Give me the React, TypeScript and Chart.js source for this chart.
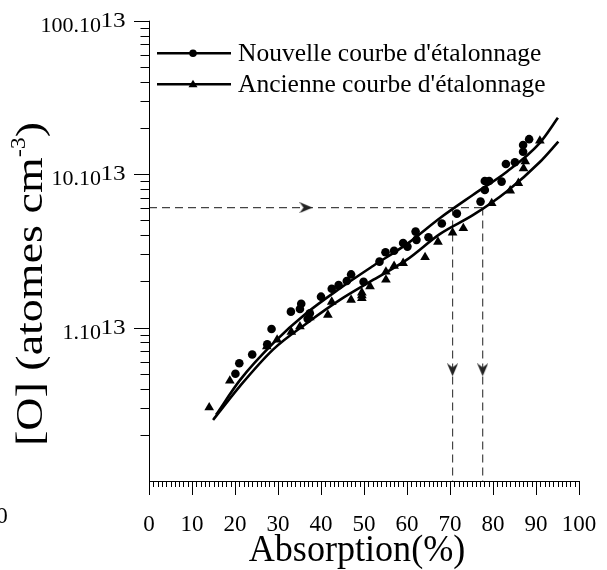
import React, { useEffect, useRef } from 'react';
import { Chart, registerables } from 'chart.js';

Chart.register(...registerables);

// ---------- data (values in units of 10^13 atomes cm-3) ----------
const xTickStep = 10;
const xMinorStep = 1;
const xMin = 0;
const xMax = 100;
const yMin = 0.1;
const yMax = 100;
const yTickValues = [1, 10, 100];
const yTickMantissas = ['1.10', '10.10', '100.10'];
const yTickExponent = '13';
const yMinorDecades = [0.1, 1, 10];

const legendLabels = ["Nouvelle courbe d'étalonnage", "Ancienne courbe d'étalonnage"];
const xTitle = 'Absorption(%)';
const yTitleMain = '[O] (atomes cm';
const yTitleSup = '-3';
const yTitleEnd = ')';
const strayLabel = '0';

// measured points, new calibration (circles)
const newPointsX = [20.1, 21.0, 24.0, 27.5, 28.5, 33.0, 35.4, 35.1, 37.4, 36.9, 40.0, 42.5, 44.1, 46.0, 47.0, 49.9, 53.6, 55.0, 57.0, 59.1, 60.1, 62.0, 62.2, 65.0, 68.1, 71.6, 77.1, 78.1, 78.1, 79.1, 82.0, 83.0, 85.1, 87.0, 87.0, 88.4];
const newPointsY = [0.50, 0.585, 0.667, 0.778, 0.978, 1.27, 1.43, 1.32, 1.24, 1.14, 1.59, 1.79, 1.89, 2.01, 2.22, 1.99, 2.69, 3.10, 3.17, 3.56, 3.37, 4.22, 3.73, 3.88, 4.77, 5.53, 6.62, 7.89, 9.03, 9.03, 8.94, 11.65, 11.96, 14.0, 15.5, 16.9];

// measured points, old calibration (triangles)
const oldPointsX = [14.0, 18.8, 27.4, 29.8, 33.1, 35.1, 37.4, 41.6, 42.5, 47.0, 49.5, 49.5, 49.5, 51.4, 55.1, 55.1, 57.0, 59.1, 64.2, 67.2, 70.6, 73.1, 79.7, 84.0, 85.9, 87.1, 87.5, 90.9];
const oldPointsY = [0.301, 0.450, 0.754, 0.832, 0.937, 1.015, 1.165, 1.21, 1.47, 1.515, 1.555, 1.62, 1.69, 1.855, 2.05, 2.31, 2.52, 2.63, 2.87, 3.62, 4.16, 4.44, 6.46, 7.81, 8.73, 10.9, 12.1, 16.5];

// fitted calibration curves
const newFitX = [15.6, 21.2, 28.9, 36.7, 44.4, 52.1, 60.0, 67.7, 75.3, 83.3, 90.9, 95.1];
const newFitY = [0.27, 0.456, 0.791, 1.247, 1.80, 2.52, 3.51, 5.18, 7.31, 10.4, 16.0, 23.3];
const oldFitX = [14.9, 21.2, 28.9, 36.7, 44.4, 52.2, 59.9, 67.7, 75.4, 83.2, 90.9, 95.2];
const oldFitY = [0.250, 0.417, 0.721, 1.068, 1.515, 2.05, 2.76, 4.08, 5.42, 7.71, 12.0, 16.3];

// reading example (dashed lines)
const readingLevel = 6.05;
const readingNewX = 70.6;
const readingOldX = 77.6;
const arrowAlongX = 36.5;
const arrowAlongY = 0.53;

const serif = '"Liberation Serif", "Times New Roman", serif';

const zip = (xs: number[], ys: number[]) => xs.map((x, i) => ({ x, y: ys[i] }));

function makeArrow(): HTMLCanvasElement {
  const c = document.createElement('canvas');
  c.width = 13;
  c.height = 11;
  const g = c.getContext('2d')!;
  g.fillStyle = '#222';
  g.beginPath();
  g.moveTo(0, 0);
  g.lineTo(13, 5.5);
  g.lineTo(0, 11);
  g.lineTo(4, 5.5);
  g.closePath();
  g.fill();
  return c;
}

const overlay = {
  id: 'overlay',
  afterDraw(chart: any) {
    const { ctx, chartArea: a, scales } = chart;
    const xs = scales.x;
    const ys = scales.y;
    ctx.save();
    ctx.strokeStyle = '#000';
    ctx.fillStyle = '#000';
    ctx.lineWidth = 1;

    // axis lines
    ctx.beginPath();
    ctx.moveTo(a.left + 0.5, a.top);
    ctx.lineTo(a.left + 0.5, a.bottom + 0.5);
    ctx.lineTo(a.right + 0.5, a.bottom + 0.5);
    ctx.stroke();

    // x ticks (minor + major)
    ctx.beginPath();
    for (let v = xMin; v <= xMax; v += xMinorStep) {
      const px = Math.round(xs.getPixelForValue(v)) + 0.5;
      const len = v % xTickStep === 0 ? 14 : 6;
      ctx.moveTo(px, a.bottom);
      ctx.lineTo(px, a.bottom + len);
    }
    ctx.stroke();

    // y ticks
    ctx.beginPath();
    for (const d of yMinorDecades) {
      for (let m = 2; m <= 9; m++) {
        const py = Math.round(ys.getPixelForValue(m * d)) + 0.5;
        ctx.moveTo(a.left - 8.5, py);
        ctx.lineTo(a.left, py);
      }
    }
    for (const v of yTickValues) {
      const py = Math.round(ys.getPixelForValue(v)) + 0.5;
      ctx.moveTo(a.left - 15, py);
      ctx.lineTo(a.left, py);
    }
    ctx.stroke();

    // y tick labels with superscript exponent
    ctx.textBaseline = 'alphabetic';
    yTickValues.forEach((v, i) => {
      const py = ys.getPixelForValue(v);
      ctx.font = `22px ${serif}`;
      ctx.textAlign = 'right';
      ctx.fillText(yTickMantissas[i], 101, py + 11);
      ctx.save();
      ctx.translate(100.5, py + 6);
      ctx.scale(1.2, 1);
      ctx.font = `21px ${serif}`;
      ctx.textAlign = 'left';
      ctx.fillText(yTickExponent, 0, 0);
      ctx.restore();
    });

    // y title (rotated, with superscript)
    ctx.save();
    ctx.translate(42, 446);
    ctx.rotate(-Math.PI / 2);
    ctx.scale(1, 0.83);
    ctx.textAlign = 'left';
    ctx.font = `46px ${serif}`;
    ctx.fillText(yTitleMain, 0, 0);
    let w = ctx.measureText(yTitleMain).width;
    ctx.font = `24px ${serif}`;
    ctx.fillText(yTitleSup, w, -20);
    w += ctx.measureText(yTitleSup).width;
    ctx.font = `46px ${serif}`;
    ctx.fillText(yTitleEnd, w, 0);
    ctx.restore();

    // x title
    ctx.save();
    ctx.translate(357, 561);
    ctx.scale(0.95, 1);
    ctx.font = `38px ${serif}`;
    ctx.textAlign = 'center';
    ctx.fillText(xTitle, 0, 0);
    ctx.restore();

    // stray label at the left edge
    ctx.font = `23px ${serif}`;
    ctx.textAlign = 'center';
    ctx.textBaseline = 'middle';
    ctx.fillText(strayLabel, 2, 517);

    // legend
    const lineYs = [53.3, 84.3];
    legendLabels.forEach((label, i) => {
      const ly = lineYs[i];
      ctx.lineWidth = 2.5;
      ctx.beginPath();
      ctx.moveTo(157, ly);
      ctx.lineTo(231, ly);
      ctx.stroke();
      ctx.beginPath();
      if (i === 0) {
        ctx.arc(193, ly, 3.8, 0, Math.PI * 2);
      } else {
        ctx.moveTo(193, ly - 4.5);
        ctx.lineTo(197.5, ly + 3);
        ctx.lineTo(188.5, ly + 3);
        ctx.closePath();
      }
      ctx.fill();
      ctx.font = `25.5px ${serif}`;
      ctx.textAlign = 'left';
      ctx.textBaseline = 'alphabetic';
      ctx.fillText(label, 238, ly + 7.4);
    });

    ctx.restore();
  },
};

export default function App() {
  const ref = useRef<HTMLCanvasElement>(null);

  useEffect(() => {
    const canvas = ref.current!;
    const arrow = makeArrow();
    const dashColor = '#444';
    const chart = new Chart(canvas, {
      type: 'scatter',
      data: {
        datasets: [
          {
            label: 'Nouvelle (points)',
            data: zip(newPointsX, newPointsY),
            pointStyle: 'circle',
            pointRadius: 4.3,
            backgroundColor: '#000',
            borderColor: '#000',
            borderWidth: 0,
          },
          {
            label: 'Ancienne (points)',
            data: zip(oldPointsX, oldPointsY),
            pointStyle: 'triangle',
            pointRadius: 5.6,
            backgroundColor: '#000',
            borderColor: '#000',
            borderWidth: 0,
          },
          {
            label: legendLabels[0],
            data: zip(newFitX, newFitY),
            showLine: true,
            pointRadius: 0,
            borderColor: '#000',
            borderWidth: 2.6,
            cubicInterpolationMode: 'monotone',
            tension: 0.4,
          },
          {
            label: legendLabels[1],
            data: zip(oldFitX, oldFitY),
            showLine: true,
            pointRadius: 0,
            borderColor: '#000',
            borderWidth: 2.6,
            cubicInterpolationMode: 'monotone',
            tension: 0.4,
          },
          {
            label: 'lecture horizontale',
            data: [
              { x: xMin, y: readingLevel },
              { x: arrowAlongX, y: readingLevel },
              { x: readingOldX, y: readingLevel },
            ],
            showLine: true,
            borderColor: dashColor,
            borderWidth: 1.2,
            borderDash: [8, 5],
            pointRadius: [0, 6, 0],
            pointStyle: arrow as any,
            rotation: 0,
          },
          {
            label: 'lecture nouvelle',
            data: [
              { x: readingNewX, y: readingLevel },
              { x: readingNewX, y: arrowAlongY },
              { x: readingNewX, y: yMin },
            ],
            showLine: true,
            borderColor: dashColor,
            borderWidth: 1.2,
            borderDash: [8, 5],
            pointRadius: [0, 6, 0],
            pointStyle: arrow as any,
            rotation: 90,
          },
          {
            label: 'lecture ancienne',
            data: [
              { x: readingOldX, y: readingLevel },
              { x: readingOldX, y: arrowAlongY },
              { x: readingOldX, y: yMin },
            ],
            showLine: true,
            borderColor: dashColor,
            borderWidth: 1.2,
            borderDash: [8, 5],
            pointRadius: [0, 6, 0],
            pointStyle: arrow as any,
            rotation: 90,
          },
        ] as any,
      },
      options: {
        animation: false,
        responsive: false,
        events: [],
        layout: { padding: { left: 149, right: 28, top: 20.7, bottom: 0 } },
        plugins: {
          legend: { display: false },
          tooltip: { enabled: false },
        },
        scales: {
          x: {
            type: 'linear',
            min: xMin,
            max: xMax,
            grid: { display: false },
            border: { display: false },
            ticks: {
              stepSize: xTickStep,
              autoSkip: false,
              maxRotation: 0,
              color: '#000',
              padding: 22.5,
              font: { family: serif, size: 23 },
            },
            afterFit: (s: any) => {
              s.height = 89;
              s.paddingLeft = 0;
              s.paddingRight = 0;
            },
          },
          y: {
            type: 'logarithmic',
            min: yMin,
            max: yMax,
            display: false,
          },
        },
      } as any,
      plugins: [overlay],
    });
    return () => chart.destroy();
  }, []);

  return (
    <canvas
      ref={ref}
      width={607}
      height={570}
      style={{ position: 'absolute', left: 0, top: 0, width: 607, height: 570 }}
    />
  );
}
